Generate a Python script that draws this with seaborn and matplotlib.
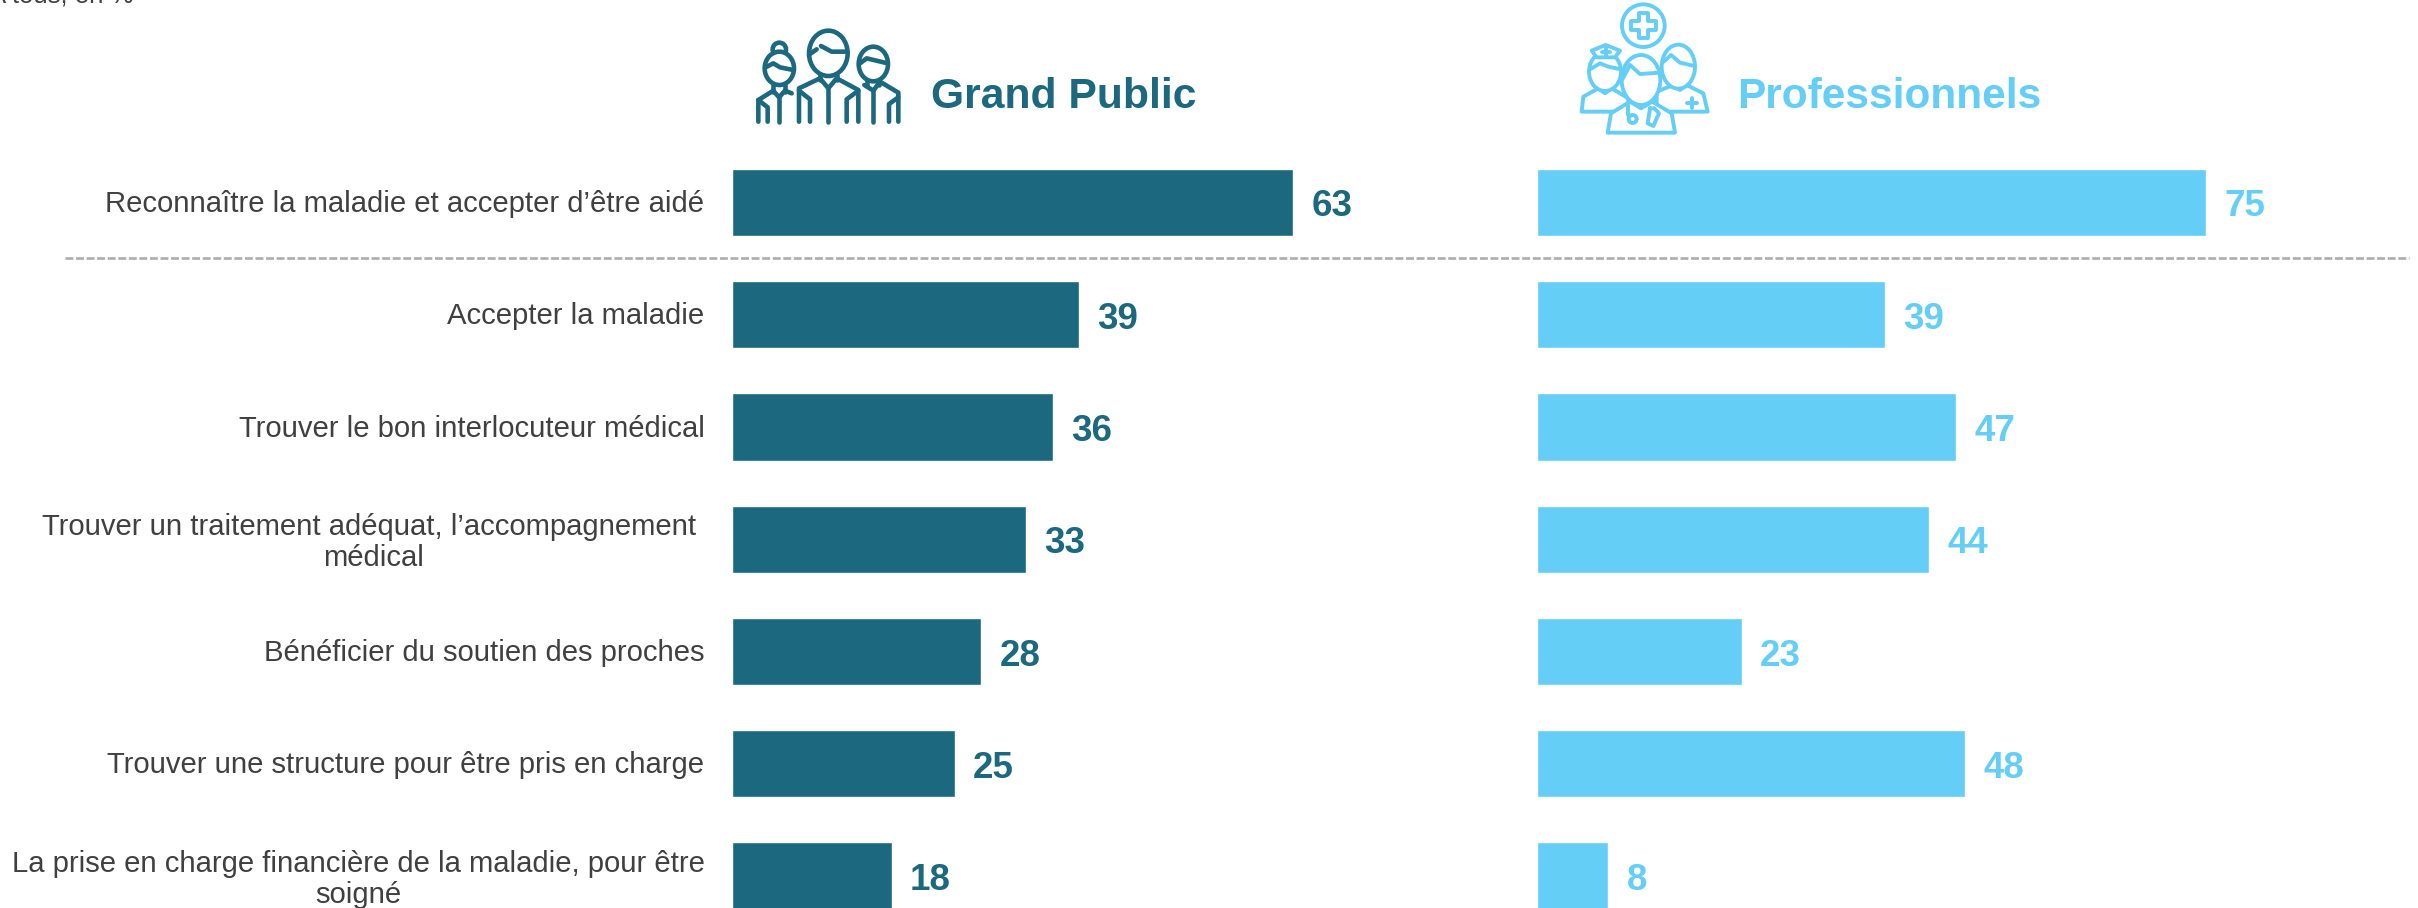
import matplotlib
matplotlib.use("Agg")
import matplotlib.pyplot as plt
from matplotlib.patches import Ellipse, Polygon
from matplotlib.transforms import ScaledTranslation
import pandas as pd
import seaborn as sns

categories = [
    "Reconnaître la maladie et accepter d’être aidé",
    "Accepter la maladie",
    "Trouver le bon interlocuteur médical",
    "Trouver un traitement adéquat, l’accompagnement \nmédical",
    "Bénéficier du soutien des proches",
    "Trouver une structure pour être pris en charge",
    "La prise en charge financière de la maladie, pour être\nsoigné",
]
grand_public = [63, 39, 36, 33, 28, 25, 18]
professionnels = [75, 39, 47, 44, 23, 48, 8]
title_left = "Grand Public"
title_right = "Professionnels"
note = "A tous, en %"

DARK = "#1B687F"
LIGHT = "#64CEF6"
GREY = "#404040"

sns.set_theme(style="white")
plt.rcParams["font.family"] = ["Liberation Sans", "DejaVu Sans"]

W, H = 2418, 908
fig = plt.figure(figsize=(W / 100, H / 100), dpi=100, facecolor="white")

PX_PER_UNIT = 8.92
PITCH = 112.3
FIRST = 202.3


def make_axes(x0, x1):
    ax = fig.add_axes([x0 / W, 0, (x1 - x0) / W, 1])
    ax.patch.set_alpha(0)
    return ax


axL = make_axes(731.5, 1500)
axR = make_axes(1537, W)
for ax, vals, col in ((axL, grand_public, DARK), (axR, professionnels, LIGHT)):
    df = pd.DataFrame({"cat": categories, "val": vals})
    sns.barplot(data=df, y="cat", x="val", color=col, saturation=1, width=0.6,
                orient="h", ax=ax)
    ax.set_xlim(0, (ax.get_position().width * W) / PX_PER_UNIT)
    ax.set_ylim((H - FIRST) / PITCH, -FIRST / PITCH)
    anns = ax.bar_label(ax.containers[0], padding=13, color=col, fontsize=26.5,
                        fontweight="bold", fmt="%d")
    for a in anns:
        a.set_verticalalignment("center_baseline")
        a.xyann = (a.xyann[0], -0.5)
    ax.set_xlabel("")
    ax.set_ylabel("")
    ax.set_xticks([])
    sns.despine(ax=ax, left=True, bottom=True)

axL.tick_params(axis="y", length=0, pad=19.5, labelsize=21.1, labelcolor=GREY)
nudge = ScaledTranslation(0, 1 / 72, fig.dpi_scale_trans)
for t in axL.get_yticklabels():
    t.set_multialignment("center")
    t.set_linespacing(1.15)
    t.set_transform(t.get_transform() + nudge)
axR.set_yticks([])

# overlay in pixel coordinates for the separator, headers and icons
ov = fig.add_axes([0, 0, 1, 1], zorder=5)
ov.set_xlim(0, W)
ov.set_ylim(H, 0)
ov.axis("off")
ov.plot([65, 2409], [258, 258], color="#ADADAD", lw=1.9, ls=(0, (3, 1)))
ov.text(931, 108, title_left, color=DARK, fontsize=30.7, fontweight="bold", va="baseline")
ov.text(1737, 108, title_right, color=LIGHT, fontsize=30.5, fontweight="bold", va="baseline")
ov.text(133, 3, note, color=GREY, fontsize=18.5, ha="right", va="baseline")


def icon(ox, oy, color, lw):
    def T(p):
        return [(ox + x / 3, oy + y / 3) for x, y in p]

    def L(*p, z=7):
        xs, ys = zip(*T(p))
        ov.plot(xs, ys, color=color, lw=lw, solid_capstyle="round",
                solid_joinstyle="round", zorder=z)

    def E(cx, cy, rx, ry, z=7):
        (x, y), = T([(cx, cy)])
        ov.add_patch(Ellipse((x, y), 2 * rx / 3, 2 * ry / 3, fc="white", ec=color, lw=lw, zorder=z))

    def P(*p, z=7):
        ov.add_patch(Polygon(T(p), closed=True, fc="white", ec=color, lw=lw,
                             joinstyle="round", zorder=z))

    return L, E, P


# Grand Public icon
L, E, P = icon(745, 20, DARK, 3.3)
E(103, 88, 20, 20)
E(103, 145, 44, 50)
L((62, 142), (85, 130), (105, 142), (145, 150))
L((85, 195), (85, 215))
L((120, 195), (120, 215))
L((40, 305), (40, 240), (85, 212), (102, 232), (120, 212), (140, 220))
L((102, 232), (102, 305))
L((40, 240), (68, 262), (68, 305))
E(250, 100, 58, 68)
L((228, 78), (260, 95), (305, 95))
L((195, 102), (215, 88))
L((225, 165), (225, 180))
L((275, 165), (275, 180))
L((162, 305), (162, 205), (225, 175), (250, 205), (275, 175), (340, 210), (340, 305))
L((250, 205), (250, 305))
L((162, 212), (195, 238), (195, 305))
L((340, 212), (305, 238), (305, 305))
E(385, 132, 44, 52)
L((345, 130), (365, 115), (428, 130))
L((367, 180), (367, 195))
L((403, 180), (403, 195))
L((358, 195), (385, 212), (405, 185), (460, 218), (460, 305))
L((385, 212), (385, 305))
L((460, 232), (432, 252), (432, 305))

# Professionnels icon
L, E, P = icon(1565, 0, LIGHT, 2.8)
E(235, 77, 64, 64)
P((221, 40), (249, 40), (249, 63), (272, 63), (272, 91), (249, 91), (249, 114),
  (221, 114), (221, 91), (198, 91), (198, 63), (221, 63))
# right man
P((275, 335), (275, 275), (325, 255), (345, 270), (365, 255), (415, 280), (428, 335), z=7)
E(340, 200, 50, 66, z=7)
L((296, 185), (318, 165), (345, 188), (388, 198), z=7)
L((380, 295), (380, 325), z=7)
L((365, 310), (395, 310), z=7)
# nurse
P((50, 335), (55, 290), (100, 265), (120, 280), (140, 265), (190, 295), (190, 335), z=7)
E(120, 215, 48, 58, z=7)
P((80, 152), (122, 135), (165, 152), (150, 172), (95, 172), z=7)
L((122, 145), (122, 168), z=7)
L((110, 157), (134, 157), z=7)
L((75, 208), (105, 190), (130, 200), (168, 208), z=7)
# doctor
P((128, 398), (138, 340), (195, 305), (228, 325), (262, 305), (320, 340), (330, 398), z=8)
E(228, 240, 58, 75, z=8)
L((172, 238), (195, 195), (225, 222), (284, 218), z=9)
L((190, 315), (190, 345), z=9)
E(203, 357, 12, 12, z=9)
L((255, 325), (248, 370), (265, 378), (282, 340), (268, 325), (255, 325), z=9)

fig.savefig("out.png", dpi=100, facecolor="white")
